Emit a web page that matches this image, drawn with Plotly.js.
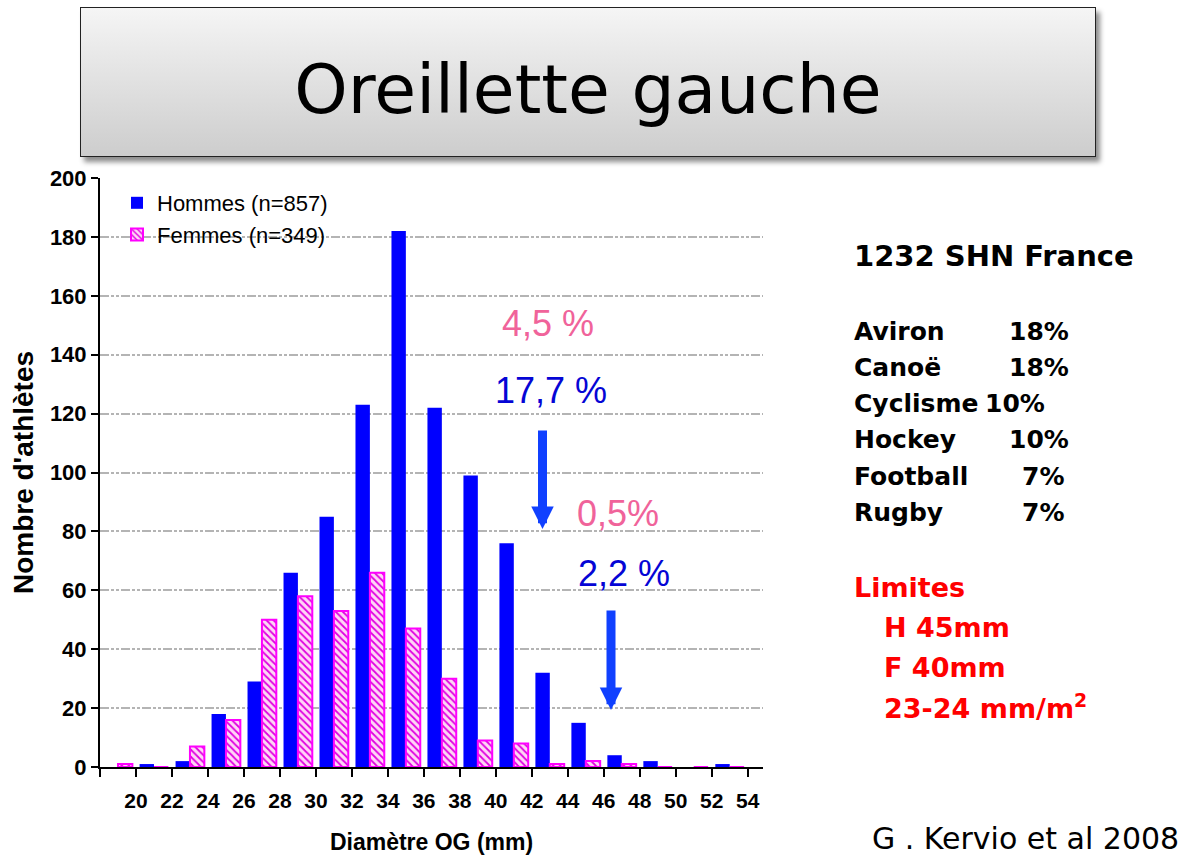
<!DOCTYPE html>
<html><head><meta charset="utf-8">
<script src="https://cdn.plot.ly/plotly-3.0.1.min.js"></script>
<style>
html,body{margin:0;padding:0;background:#fff;}
#wrap{position:relative;width:1200px;height:860px;overflow:hidden;}
#titlebox{position:absolute;left:80px;top:7px;width:1014px;height:148px;border:1px solid #222;
  background:linear-gradient(#f5f5f5,#cdcdcd);box-shadow:4px 5px 5px rgba(0,0,0,0.45);}
#chart{position:absolute;left:0;top:0;width:1200px;height:860px;}
</style></head><body>
<div id="wrap"><div id="titlebox"></div><div id="chart"></div></div>
<script>
// ---- data ----
const binCenters = [19,21,23,25,27,29,31,33,35,37,39,41,43,45,47,49,51,53];
const hommes     = [0,1,2,18,29,66,85,123,182,122,99,76,32,15,4,2,0,1];
const femmes     = [1,0,7,16,50,58,53,66,47,30,9,8,1,2,1,0,0,0];
const tickValues = [18,20,22,24,26,28,30,32,34,36,38,40,42,44,46,48,50,52,54];
const tickLabels = ['','20','22','24','26','28','30','32','34','36','38','40','42','44','46','48','50','52','54'];
const yTicks     = [0,20,40,60,80,100,120,140,160,180,200];
const gridLevels = [20,40,60,80,100,120,140,160,180];
const sports      = ['Aviron','Canoë','Cyclisme','Hockey','Football','Rugby'];
const sportShares = ['18%','18%','10%','10%','7%','7%'];
const limites     = ['H 45mm','F 40mm','23-24 mm/m<sup>2</sup>'];
const seriesNames = ['Hommes (n=857)','Femmes (n=349)'];

// ---- layout helpers (pixel -> paper) ----
const L=100, R=763, T=178, B=767;
const px = x => (x-L)/(R-L);
const py = y => (B-y)/(B-T);

const comic = 'DejaVu Sans, Noto Sans, sans-serif';

function note(x, y, text, font, xanchor){
  return {xref:'paper', yref:'paper', x:px(x), y:py(y), text:text, showarrow:false,
    xanchor:xanchor||'center', yanchor:'middle', font:font};
}

const traces = [
  {type:'bar', x:binCenters, y:hommes, name:seriesNames[0],
   marker:{color:'#0000ff', line:{width:0}}},
  {type:'bar', x:binCenters, y:femmes, name:seriesNames[1],
   marker:{color:'#ffd0f4', line:{color:'#ff00ff', width:2},
     pattern:{shape:'\\', fgcolor:'#e000e0', bgcolor:'#ffd6f6', size:5, solidity:0.35}}},
  {type:'scatter', x:[], y:[], yaxis:'y2', showlegend:false, hoverinfo:'skip'}
];

const pink = '#f0639a', dblue = '#0505d5';
const pctFont = c => ({family:'Liberation Sans, Arial', size:36, color:c});
const annotations = [];
annotations.push(note(548, 323, '4,5 %', pctFont(pink)));
annotations.push(note(551, 390, '17,7 %', pctFont(dblue)));
annotations.push(note(618, 513, '0,5%', pctFont(pink)));
annotations.push(note(624, 573, '2,2 %', pctFont(dblue)));
annotations.push({xref:'paper', yref:'paper', x:px(542.5), y:py(529), ax:0, ay:-100, text:'',
  showarrow:true, arrowhead:2, arrowwidth:9, arrowsize:0.5, arrowcolor:'#1040ff'});
annotations.push({xref:'paper', yref:'paper', x:px(611), y:py(710), ax:0, ay:-101, text:'',
  showarrow:true, arrowhead:2, arrowwidth:9, arrowsize:0.5, arrowcolor:'#1040ff'});

// right-side text
const blk = s => ({family:comic, size:s, color:'#000', weight:'bold'});
const red = s => ({family:comic, size:s, color:'#ff0000', weight:'bold'});
annotations.push(note(852, 256, '1232 SHN France', blk(29), 'left'));
const rowY = [331,367,403,439,476,512];
const pctRight = [1071,1071,1047,1071,1066,1066];
sports.forEach((s,i)=>{
  annotations.push(note(852, rowY[i], s, blk(25), 'left'));
  annotations.push(note(pctRight[i], rowY[i], sportShares[i], blk(25), 'right'));
});
annotations.push(note(852, 587, 'Limites', red(27), 'left'));
const limY = [627,667,706];
limites.forEach((s,i)=>{ annotations.push(note(882, limY[i], s, red(27), 'left')); });
annotations.push(note(870, 838, 'G . Kervio et al 2008', {family:comic, size:30, color:'#000'}, 'left'));

const layout = {
  width:1200, height:860,
  margin:{l:L, r:1200-R, t:T, b:860-B, pad:0},
  paper_bgcolor:'rgba(0,0,0,0)', plot_bgcolor:'rgba(0,0,0,0)',
  title:{text:'Oreillette gauche', x:0.49, xanchor:'center', y:1-89/860, yanchor:'middle',
    font:{family:comic, size:68, color:'#000'}},
  barmode:'group', bargap:0.2, bargroupgap:0,
  showlegend:true,
  legend:{x:px(117), y:py(182), xanchor:'left', yanchor:'top', bgcolor:'rgba(0,0,0,0)',
    font:{family:'Liberation Sans, Arial', size:22, color:'#000'}, tracegroupgap:6},
  xaxis:{range:[18,54.85], tickmode:'array', tickvals:tickValues, ticktext:tickLabels,
    ticks:'outside', ticklen:8, tickwidth:2, tickcolor:'#000',
    showline:true, linecolor:'#000', linewidth:2, showgrid:false, zeroline:false,
    ticklabelstandoff:6,
    tickfont:{family:'Liberation Sans, Arial', size:21, color:'#000', weight:'bold'},
    title:{text:'Diamètre OG (mm)', standoff:23,
      font:{family:'Liberation Sans, Arial', size:23, color:'#000', weight:'bold'}}},
  yaxis:{range:[0,200], tickmode:'array', tickvals:yTicks,
    ticks:'outside', ticklen:7, tickwidth:2, tickcolor:'#000',
    showline:true, linecolor:'#000', linewidth:2, showgrid:false, zeroline:false,
    tickfont:{family:'Liberation Sans, Arial', size:22, color:'#000', weight:'bold'},
    title:{text:"Nombre d'athlètes", standoff:8,
      font:{family:'Liberation Sans, Arial', size:28, color:'#000', weight:'bold'}}},
  yaxis2:{overlaying:'y', range:[0,200], tickmode:'array', tickvals:gridLevels, showticklabels:false,
    ticks:'', showline:false, zeroline:false, showgrid:true, gridcolor:'#b4b4b4', gridwidth:2,
    griddash:'9px,2px,3px,2px,3px,2px'},
  annotations:annotations
};

Plotly.newPlot('chart', traces, layout, {displayModeBar:false, staticPlot:true});
</script>
</body></html>
